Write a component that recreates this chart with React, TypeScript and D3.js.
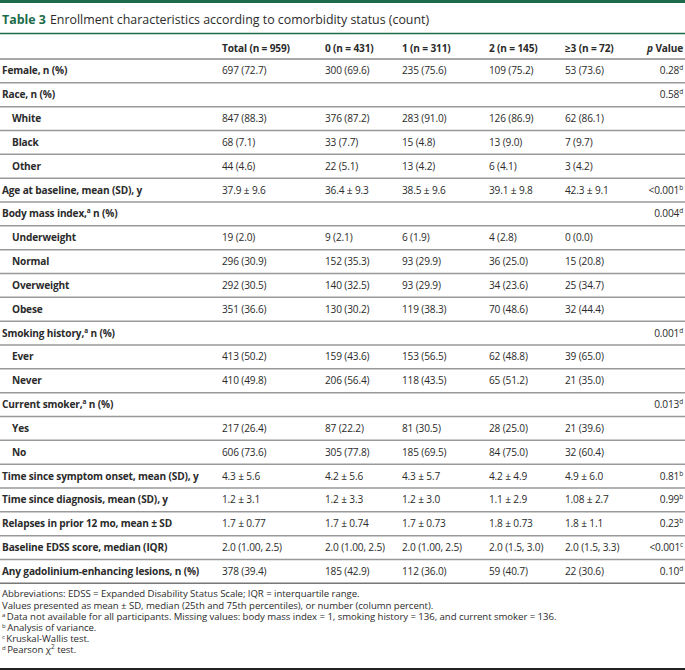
import React from "react";
import * as d3 from "d3";

const title = "Enrollment characteristics according to comorbidity status (count)";
const headers = ["Total (n = 959)", "0 (n = 431)", "1 (n = 311)", "2 (n = 145)", "≥3 (n = 72)"];

const rowLabels = [
  "Female, n (%)", "Race, n (%)", "White", "Black", "Other",
  "Age at baseline, mean (SD), y", "Body mass index,", "Underweight", "Normal", "Overweight", "Obese",
  "Smoking history,", "Ever", "Never", "Current smoker,", "Yes", "No",
  "Time since symptom onset, mean (SD), y", "Time since diagnosis, mean (SD), y",
  "Relapses in prior 12 mo, mean ± SD", "Baseline EDSS score, median (IQR)",
  "Any gadolinium-enhancing lesions, n (%)",
];
const rowLabelSup = ["", "", "", "", "", "", "a", "", "", "", "", "a", "", "", "a", "", "", "", "", "", "", ""];
const rowLabelTail = ["", "", "", "", "", "", " n (%)", "", "", "", "", " n (%)", "", "", " n (%)", "", "", "", "", "", "", ""];
const rowIndent = [0, 0, 1, 1, 1, 0, 0, 1, 1, 1, 1, 0, 1, 1, 0, 1, 1, 0, 0, 0, 0, 0];

const totalCol = ["697 (72.7)", "", "847 (88.3)", "68 (7.1)", "44 (4.6)", "37.9 ± 9.6", "", "19 (2.0)", "296 (30.9)", "292 (30.5)", "351 (36.6)", "", "413 (50.2)", "410 (49.8)", "", "217 (26.4)", "606 (73.6)", "4.3 ± 5.6", "1.2 ± 3.1", "1.7 ± 0.77", "2.0 (1.00, 2.5)", "378 (39.4)"];
const col0 = ["300 (69.6)", "", "376 (87.2)", "33 (7.7)", "22 (5.1)", "36.4 ± 9.3", "", "9 (2.1)", "152 (35.3)", "140 (32.5)", "130 (30.2)", "", "159 (43.6)", "206 (56.4)", "", "87 (22.2)", "305 (77.8)", "4.2 ± 5.6", "1.2 ± 3.3", "1.7 ± 0.74", "2.0 (1.00, 2.5)", "185 (42.9)"];
const col1 = ["235 (75.6)", "", "283 (91.0)", "15 (4.8)", "13 (4.2)", "38.5 ± 9.6", "", "6 (1.9)", "93 (29.9)", "93 (29.9)", "119 (38.3)", "", "153 (56.5)", "118 (43.5)", "", "81 (30.5)", "185 (69.5)", "4.3 ± 5.7", "1.2 ± 3.0", "1.7 ± 0.73", "2.0 (1.00, 2.5)", "112 (36.0)"];
const col2 = ["109 (75.2)", "", "126 (86.9)", "13 (9.0)", "6 (4.1)", "39.1 ± 9.8", "", "4 (2.8)", "36 (25.0)", "34 (23.6)", "70 (48.6)", "", "62 (48.8)", "65 (51.2)", "", "28 (25.0)", "84 (75.0)", "4.2 ± 4.9", "1.1 ± 2.9", "1.8 ± 0.73", "2.0 (1.5, 3.0)", "59 (40.7)"];
const col3 = ["53 (73.6)", "", "62 (86.1)", "7 (9.7)", "3 (4.2)", "42.3 ± 9.1", "", "0 (0.0)", "15 (20.8)", "25 (34.7)", "32 (44.4)", "", "39 (65.0)", "21 (35.0)", "", "21 (39.6)", "32 (60.4)", "4.9 ± 6.0", "1.08 ± 2.7", "1.8 ± 1.1", "2.0 (1.5, 3.3)", "22 (30.6)"];
const pValues = ["0.28", "0.58", "", "", "", "<0.001", "0.004", "", "", "", "", "0.001", "", "", "0.013", "", "", "0.81", "0.99", "0.23", "<0.001", "0.10"];
const pSup = ["d", "d", "", "", "", "b", "d", "", "", "", "", "d", "", "", "d", "", "", "b", "b", "b", "c", "d"];

const footSup = ["", "", "a", "b", "c", "d"];
const footText = [
  "Abbreviations: EDSS = Expanded Disability Status Scale; IQR = interquartile range.",
  "Values presented as mean ± SD, median (25th and 75th percentiles), or number (column percent).",
  "Data not available for all participants. Missing values: body mass index = 1, smoking history = 136, and current smoker = 136.",
  "Analysis of variance.",
  "Kruskal-Wallis test.",
  "Pearson χ",
];

const W = 685;
const H = 670;
const GREEN = "#1c6b4a";
const TEXT = "#2b2b2b";
const FONT = "'Open Sans', 'Noto Sans', sans-serif";

export default function App() {
  const dataCols = [totalCol, col0, col1, col2, col3];
  const idx = d3.range(rowLabels.length);
  const y = d3.scaleBand<number>().domain(idx).range([59, 583.3]).padding(0);
  const x = d3.scaleOrdinal<number, number>().domain(d3.range(5)).range([222, 325, 402, 489, 565]);
  const pRight = 683;
  const footY = d3.scaleLinear().domain([0, 5]).range([597.3, 653.3]);
  const fs = 10.1;
  const ls = -0.15;

  return (
    <svg width={W} height={H} style={{ position: "absolute", left: 0, top: 0, background: "#fff" }} fontFamily={FONT}>
      <rect x={0} y={0} width={W} height={H} fill="#fff" />
      <rect x={0} y={0} width={W} height={3} fill={GREEN} />
      <text x={2} y={20} dy="0.35em" fontSize={12.4} fill={TEXT}>
        <tspan fill={GREEN} fontWeight={700}>Table 3</tspan>
        <tspan dx={4}>{title}</tspan>
      </text>
      <line x1={0} x2={W} y1={33.5} y2={33.5} stroke={GREEN} strokeWidth={1.3} />
      {headers.map((h, i) => (
        <text key={"h" + i} x={x(i)} y={48} dy="0.35em" fontSize={fs} letterSpacing={ls} fontWeight={700} fill={TEXT}>{h}</text>
      ))}
      <text x={pRight} y={48} dy="0.35em" fontSize={fs} letterSpacing={ls} fontWeight={700} fill={TEXT} textAnchor="end">
        <tspan fontStyle="italic">p</tspan> Value
      </text>
      <line x1={0} x2={W} y1={59} y2={59} stroke="#a8a8a8" strokeWidth={2} />
      {idx.map((i) => {
        const yc = (y(i) as number) + y.bandwidth() / 2;
        const yb = (y(i) as number) + y.bandwidth();
        return (
          <g key={"r" + i}>
            <text x={rowIndent[i] ? 12 : 2} y={yc} dy="0.35em" fontSize={fs} letterSpacing={ls} fontWeight={700} fill={TEXT}>
              {rowLabels[i]}
              {rowLabelSup[i] && <tspan fontSize={6.5} dy={-4}>{rowLabelSup[i]}</tspan>}
              {rowLabelTail[i] && <tspan dy={4}>{rowLabelTail[i]}</tspan>}
            </text>
            {dataCols.map((c, j) => (
              <text key={j} x={x(j)} y={yc} dy="0.35em" fontSize={fs} letterSpacing={ls} fill={TEXT}>{c[i]}</text>
            ))}
            {pValues[i] && (
              <text x={pRight} y={yc} dy="0.35em" fontSize={fs} letterSpacing={ls} fill={TEXT} textAnchor="end">
                {pValues[i]}
                <tspan fontSize={6.5} dy={-4}>{pSup[i]}</tspan>
              </text>
            )}
            <line x1={0} x2={W} y1={yb} y2={yb} stroke={i === idx.length - 1 ? "#777" : "#999"} strokeWidth={1.5} />
          </g>
        );
      })}
      {footText.map((t, i) => (
        <text key={"f" + i} x={2} y={footY(i)} dy="0.35em" fontSize={9.6} letterSpacing={-0.05} fill={TEXT}>
          {footSup[i] && <tspan fontSize={6} dy={-3}>{footSup[i]}</tspan>}
          <tspan dy={footSup[i] ? 3 : 0} dx={footSup[i] ? 1.5 : 0}>{t}</tspan>
          {i === 5 && <tspan fontSize={6.5} dy={-4}>2</tspan>}
          {i === 5 && <tspan dy={4}> test.</tspan>}
        </text>
      ))}
      <line x1={0} x2={W} y1={669} y2={669} stroke="#222" strokeWidth={2} />
    </svg>
  );
}
